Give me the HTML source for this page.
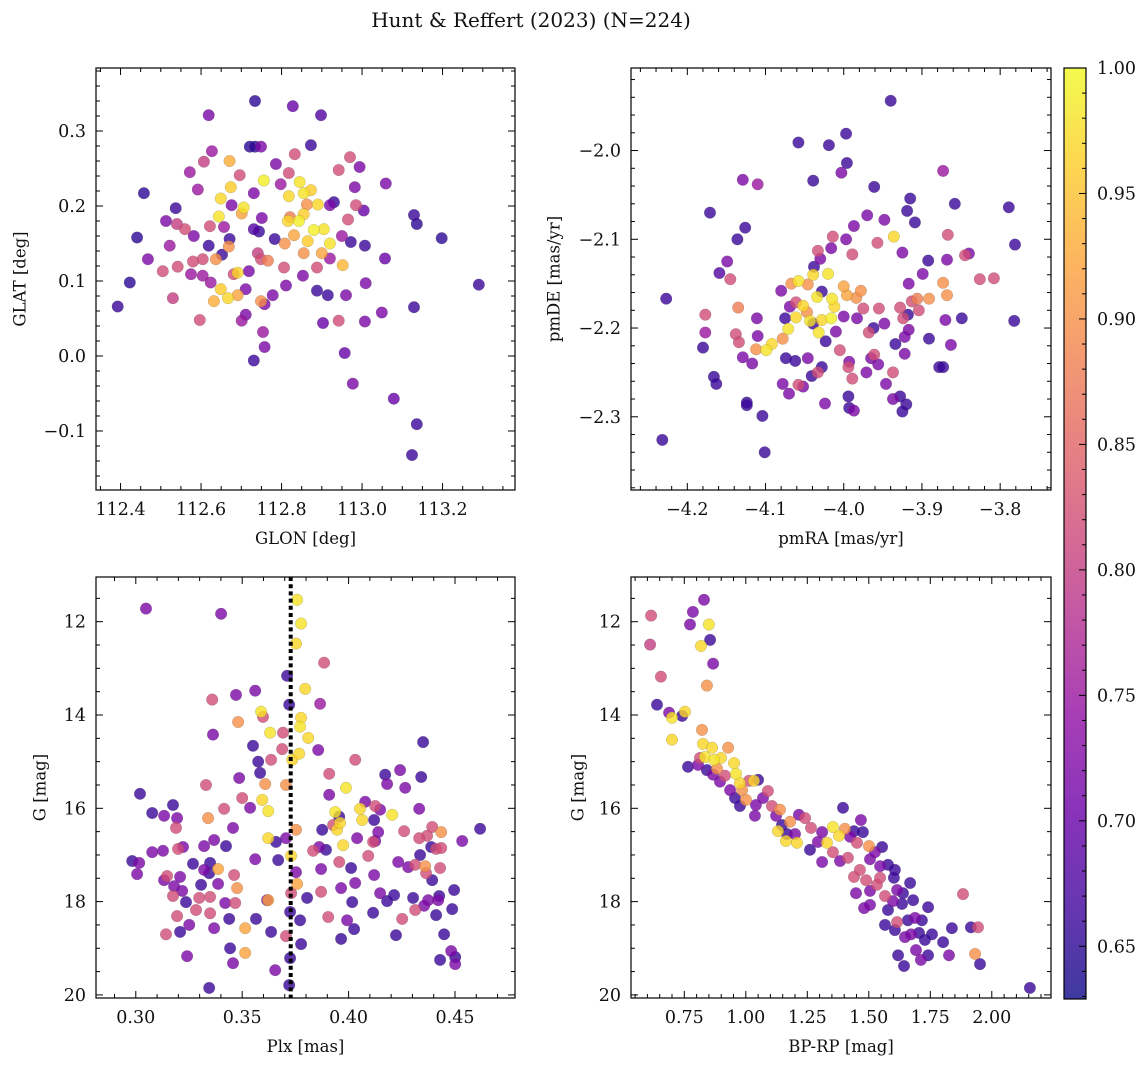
<!DOCTYPE html>
<html><head><meta charset="utf-8"><title>Hunt & Reffert (2023)</title>
<style>
html,body{margin:0;padding:0;background:#fff;}
svg{display:block;font-family:"DejaVu Serif","Liberation Serif",serif;}
</style></head>
<body>
<svg id="fig" width="1148" height="1067" viewBox="0 0 1148 1067" xmlns="http://www.w3.org/2000/svg">
<rect width="1148" height="1067" fill="#fff"/>
<text x="531" y="27" text-anchor="middle" font-size="20" fill="#111">Hunt &amp; Reffert (2023) (N=224)</text>
<g id="panels"></g>
</svg>
<script>
// ---------- Panel 1: GLON / GLAT ----------
const glon = [112.734,112.828,112.619,112.898,112.721,112.734,112.749,112.458,112.441,112.423,112.393,113.290,113.198,113.129,113.136,113.129,113.136,113.124,113.079,112.977,112.957,113.007,113.057,113.049,113.009,113.059,113.004,112.920,112.758,112.754,112.731,112.758,112.903,112.942,112.888,112.811,112.701,112.597,112.530,112.540,112.468,112.575,112.522,112.542,112.604,112.607,112.627,112.671,112.696,112.706,112.674,112.649,112.644,112.701,112.669,112.637,112.691,112.649,112.691,112.632,112.749,112.766,112.821,112.863,112.845,112.756,112.818,112.855,112.873,112.843,112.816,112.855,112.890,112.880,112.905,112.920,112.865,112.831,112.808,112.855,112.900,112.950,112.972,112.985,112.965,112.942,112.982,112.952,112.930,112.873,112.786,112.798,112.833,112.818,112.731,112.751,112.783,112.744,112.731,112.749,112.741,112.806,112.778,112.711,112.719,112.671,112.652,112.619,112.657,112.681,112.624,112.582,112.572,112.592,112.676,112.537,112.513,112.560,112.580,112.505,112.604,112.622,112.667,112.711,113.007,112.920,112.888,112.915,112.960,112.853,112.970,112.994];
const glat = [0.340,0.333,0.321,0.321,0.279,0.279,0.279,0.217,0.158,0.098,0.066,0.095,0.157,0.188,0.176,0.065,-0.091,-0.132,-0.057,-0.037,0.004,0.046,0.130,0.058,0.097,0.230,0.194,0.201,0.069,0.032,-0.006,0.012,0.044,0.047,0.087,0.094,0.047,0.048,0.077,0.176,0.129,0.109,0.147,0.119,0.129,0.259,0.273,0.260,0.241,0.198,0.225,0.210,0.186,0.190,0.146,0.129,0.111,0.089,0.081,0.073,0.073,0.127,0.185,0.202,0.232,0.234,0.213,0.217,0.221,0.180,0.180,0.189,0.202,0.168,0.169,0.150,0.153,0.161,0.150,0.137,0.137,0.160,0.152,0.201,0.182,0.248,0.225,0.121,0.205,0.281,0.256,0.229,0.269,0.244,0.217,0.184,0.156,0.166,0.169,0.129,0.137,0.118,0.081,0.089,0.113,0.156,0.135,0.147,0.172,0.109,0.098,0.160,0.245,0.222,0.201,0.197,0.180,0.169,0.126,0.113,0.107,0.173,0.077,0.055,0.147,0.130,0.118,0.081,0.081,0.107,0.265,0.252];
const prob1 = [.65,.70,.72,.68,.65,.65,.72,.65,.65,.65,.66,.66,.65,.66,.65,.66,.66,.66,.70,.72,.70,.72,.70,.72,.72,.72,.70,.72,.72,.75,.66,.72,.70,.82,.66,.72,.75,.82,.80,.80,.72,.75,.75,.82,.82,.80,.75,.93,.82,.98,.96,.97,.98,.92,.90,.90,.97,.96,.92,.93,.90,.88,.88,.90,.98,.99,.97,.98,.96,.99,.97,.96,.97,.99,.98,.98,.96,.92,.90,.90,.92,.75,.66,.82,.82,.82,.72,.94,.66,.66,.72,.75,.82,.82,.72,.72,.66,.66,.68,.82,.80,.82,.72,.72,.72,.66,.66,.66,.75,.82,.75,.72,.75,.75,.72,.66,.72,.82,.82,.82,.75,.82,.97,.72,.66,.75,.82,.66,.72,.72,.82,.72];
const p1XTicks = [112.4,112.6,112.8,113.0,113.2];
const p1XTickLabels = ["112.4","112.6","112.8","113.0","113.2"];
const p1YTicks = [-0.1,0.0,0.1,0.2,0.3];
const p1YTickLabels = ["\u22120.1","0.0","0.1","0.2","0.3"];

// ---------- Panel 2: pmRA / pmDE ----------
const pmra = [-3.940,-3.997,-4.058,-4.019,-3.996,-3.961,-4.129,-4.110,-4.039,-4.003,-3.873,-3.915,-3.919,-3.909,-3.858,-3.789,-3.781,-4.171,-4.126,-4.136,-4.159,-4.227,-4.177,-4.177,-4.180,-4.166,-4.163,-4.232,-4.124,-4.124,-4.104,-4.101,-4.149,-4.145,-4.135,-4.138,-4.134,-4.129,-4.117,-4.110,-4.112,-4.099,-4.092,-4.078,-4.071,-4.061,-4.061,-4.080,-4.058,-4.067,-4.046,-4.034,-4.052,-4.047,-4.043,-4.028,-4.032,-4.016,-4.015,-4.012,-3.996,-3.984,-3.978,-4.000,-4.020,-4.039,-4.038,-4.030,-4.033,-4.016,-4.014,-3.997,-3.989,-3.987,-3.970,-3.948,-3.957,-3.936,-3.925,-3.899,-3.917,-3.906,-3.913,-3.928,-3.924,-3.904,-3.891,-3.873,-3.845,-3.840,-3.868,-3.892,-3.868,-3.918,-3.917,-3.922,-3.891,-3.922,-3.961,-3.956,-3.937,-3.946,-3.937,-3.928,-3.920,-3.925,-3.878,-3.873,-3.863,-3.849,-3.782,-3.826,-3.808,-3.867,-3.870,-3.987,-3.971,-3.965,-3.993,-3.994,-3.993,-4.024,-4.052,-4.033,-4.028,-4.005,-3.994,-3.989,-4.010,-4.000,-3.983,-3.975,-3.955,-3.948,-3.962,-3.934,-4.070,-4.078,-4.058,-4.074,-4.062,-4.046,-4.041,-4.023,-3.968,-4.028,-4.039,-4.075,-4.069,-4.111];
const pmde = [-1.944,-1.981,-1.991,-1.994,-2.014,-2.041,-2.033,-2.038,-2.034,-2.025,-2.023,-2.054,-2.068,-2.081,-2.060,-2.064,-2.106,-2.070,-2.087,-2.100,-2.138,-2.167,-2.185,-2.205,-2.222,-2.255,-2.263,-2.326,-2.284,-2.287,-2.299,-2.340,-2.125,-2.145,-2.177,-2.207,-2.216,-2.233,-2.240,-2.209,-2.224,-2.225,-2.218,-2.212,-2.201,-2.188,-2.171,-2.158,-2.147,-2.150,-2.151,-2.165,-2.175,-2.182,-2.192,-2.191,-2.205,-2.189,-2.167,-2.176,-2.163,-2.166,-2.158,-2.153,-2.139,-2.140,-2.131,-2.122,-2.113,-2.110,-2.097,-2.100,-2.117,-2.085,-2.073,-2.078,-2.104,-2.097,-2.115,-2.139,-2.150,-2.167,-2.170,-2.177,-2.189,-2.180,-2.167,-2.149,-2.118,-2.116,-2.123,-2.124,-2.163,-2.185,-2.202,-2.210,-2.212,-2.229,-2.230,-2.241,-2.250,-2.263,-2.280,-2.277,-2.286,-2.294,-2.244,-2.244,-2.219,-2.189,-2.192,-2.145,-2.144,-2.095,-2.191,-2.293,-2.250,-2.234,-2.238,-2.277,-2.290,-2.285,-2.266,-2.250,-2.244,-2.225,-2.244,-2.257,-2.204,-2.187,-2.189,-2.178,-2.178,-2.195,-2.200,-2.218,-2.274,-2.263,-2.264,-2.234,-2.237,-2.234,-2.254,-2.215,-2.205,-2.159,-2.195,-2.189,-2.176,-2.189];
const prob2 = [.66,.66,.66,.66,.66,.66,.72,.75,.66,.72,.75,.66,.66,.66,.66,.66,.66,.66,.66,.66,.68,.66,.82,.75,.66,.66,.66,.66,.66,.66,.66,.66,.72,.82,.88,.82,.82,.72,.72,.72,.90,.98,.97,.90,.98,.97,.82,.72,.98,.90,.90,.98,.97,.90,.98,.97,.98,.99,.98,.97,.92,.90,.90,.92,.98,.97,.66,.72,.82,.72,.82,.72,.82,.72,.72,.72,.82,.97,.72,.72,.72,.88,.82,.82,.82,.82,.90,.90,.82,.72,.72,.66,.90,.66,.72,.72,.66,.72,.82,.72,.82,.72,.72,.66,.66,.66,.66,.66,.72,.66,.66,.82,.82,.82,.72,.72,.72,.72,.72,.66,.66,.72,.72,.82,.66,.82,.82,.82,.72,.72,.72,.82,.82,.72,.66,.66,.72,.72,.82,.66,.66,.72,.66,.66,.82,.66,.66,.66,.72,.72];
const p2XTicks = [-4.2,-4.1,-4.0,-3.9,-3.8];
const p2XTickLabels = ["\u22124.2","\u22124.1","\u22124.0","\u22123.9","\u22123.8"];
const p2YTicks = [-2.3,-2.2,-2.1,-2.0];
const p2YTickLabels = ["\u22122.3","\u22122.2","\u22122.1","\u22122.0"];

// ---------- Panel 3: Plx / G ----------
const plx = [.3048,.3401,.3561,.3575,.3758,.3777,.3753,.3711,.3796,.3721,.3866,.3885,.3810,.3772,.3777,.3735,.3909,.3988,.4031,.3589,.3598,.3471,.3359,.3481,.3363,.3631,.3692,.3688,.3768,.3551,.3584,.3636,.3608,.3706,.3594,.3537,.3622,.3622,.3659,.3561,.3669,.3706,.3753,.3730,.3753,.3758,.3730,.3725,.3617,.3565,.3706,.3805,.3772,.3777,.3725,.3655,.3721,.3636,.3514,.3514,.3443,.3345,.3622,.3349,.3368,.3298,.3349,.3420,.3439,.3476,.3349,.3368,.3424,.3340,.3330,.3415,.3486,.3500,.3457,.3462,.3387,.3387,.3345,.3208,.3269,.3128,.3077,.3016,.2983,.3006,.3133,.3194,.3142,.3147,.3222,.3199,.3189,.3194,.3175,.3133,.3077,.3020,.3321,.3321,.3307,.3236,.3251,.3208,.3175,.3283,.3218,.3180,.3241,.3457,.3467,.3909,.3937,.3946,.3974,.3894,.3956,.3871,.3871,.3904,.3965,.4031,.4017,.3993,.3862,.3876,.3927,.3833,.3960,.4040,.4120,.4125,.4092,.4120,.4148,.4214,.4223,.4115,.4026,.3965,.4181,.4115,.4125,.4139,.4205,.4181,.4242,.4266,.4341,.4332,.4261,.4233,.4280,.4313,.4303,.4252,.4313,.4374,.4421,.4364,.4369,.4393,.4435,.4332,.4388,.4411,.4430,.4435,.4360,.4496,.4393,.4426,.4355,.4449,.4501,.4534,.4430,.4482,.4487,.4618,.4501,.4411,.4336,.4350,.4172,.4148,.3956,.4078,.4064,.3857,.4012,.4054];
const gmag3 = [11.72,11.83,13.48,15.00,11.53,12.04,12.47,13.16,13.44,13.78,13.76,12.88,14.49,14.25,14.06,14.96,15.26,15.56,14.96,13.93,14.04,13.57,13.67,14.15,14.42,14.38,14.38,14.73,14.83,14.66,15.24,14.96,15.48,15.50,15.82,15.99,16.06,16.64,16.72,17.09,17.11,16.64,16.46,17.02,17.37,17.62,17.82,18.22,17.97,18.37,18.74,17.92,18.40,18.91,19.21,19.47,19.79,18.65,18.57,19.10,19.00,19.85,17.97,18.25,18.57,17.92,17.90,18.03,18.37,17.71,17.17,16.68,16.81,16.21,15.50,16.01,15.35,15.78,16.42,17.43,17.62,17.30,17.39,17.47,17.19,16.91,16.94,17.17,17.13,17.41,17.54,18.31,18.70,17.45,16.83,16.87,16.42,16.21,15.93,16.16,16.10,15.69,16.81,17.32,17.64,18.01,18.50,18.65,17.88,18.18,17.77,17.67,19.17,19.32,18.03,15.71,16.08,16.46,16.79,16.89,17.15,17.30,17.79,18.33,17.71,17.60,18.01,18.40,16.83,16.46,16.36,16.91,16.31,16.64,16.25,16.70,17.02,17.43,17.82,17.86,18.72,18.24,18.59,18.80,17.99,16.72,15.95,16.51,16.14,15.48,15.18,15.56,15.33,16.01,16.49,17.15,17.26,17.21,17.92,18.37,18.18,17.97,17.97,17.39,16.59,16.40,16.51,16.64,16.83,16.87,17.28,16.85,17.24,17.75,17.54,17.88,18.09,18.70,19.19,16.70,19.25,19.06,18.16,16.44,19.34,18.29,17.00,14.58,15.28,16.03,16.18,15.86,16.25,14.75,17.28,16.01];
const prob3 = [.72,.72,.72,.66,.98,.98,.97,.66,.97,.66,.75,.82,.97,.98,.97,.97,.82,.98,.82,.98,.82,.72,.82,.90,.72,.98,.82,.82,.97,.66,.66,.82,.90,.90,.97,.72,.98,.97,.66,.72,.66,.72,.90,.97,.72,.92,.82,.66,.72,.66,.82,.66,.66,.66,.66,.72,.66,.66,.92,.92,.66,.66,.92,.82,.72,.82,.82,.72,.66,.90,.66,.72,.66,.90,.82,.82,.72,.82,.72,.82,.72,.92,.66,.72,.66,.72,.72,.72,.66,.72,.72,.82,.82,.82,.72,.82,.82,.72,.66,.72,.66,.66,.72,.72,.66,.66,.72,.66,.82,.82,.72,.72,.72,.72,.82,.72,.98,.97,.97,.66,.82,.72,.82,.82,.72,.72,.66,.72,.72,.66,.82,.82,.97,.72,.66,.72,.82,.72,.72,.66,.66,.66,.66,.66,.66,.82,.82,.72,.98,.72,.72,.72,.66,.72,.82,.72,.72,.82,.66,.82,.82,.72,.72,.82,.82,.82,.90,.82,.66,.82,.82,.82,.90,.66,.66,.66,.72,.66,.66,.72,.66,.72,.66,.66,.72,.66,.66,.66,.66,.72,.66,.72,.97,.72,.66,.97];
const plxRef = [0.3728];
const p3XTicks = [0.30,0.35,0.40,0.45];
const p3XTickLabels = ["0.30","0.35","0.40","0.45"];
const gTicks = [12,14,16,18,20];
const gTickLabels = ["12","14","16","18","20"];

// ---------- Panel 4: BP-RP / G ----------
const bprp = [.615,.611,.655,.639,.688,.700,.700,.741,.753,.773,.785,.830,.855,.867,.850,.818,.842,.765,.814,.822,.826,.834,.863,.871,.883,.899,.806,.842,.867,.895,.915,.928,.952,.960,.976,.985,1.001,.936,.956,.976,1.013,1.033,1.041,1.037,1.070,1.090,1.050,1.106,1.123,1.139,1.180,1.147,1.167,1.200,1.216,1.241,1.265,1.293,1.261,1.310,1.330,1.354,1.379,1.403,1.424,1.452,1.476,1.501,1.505,1.525,1.554,1.546,1.578,1.606,1.602,1.395,1.440,1.468,1.383,1.415,1.440,1.464,1.489,1.505,1.533,1.566,1.615,1.639,1.635,1.659,1.615,1.578,1.598,1.566,1.505,1.481,1.546,1.668,1.680,1.688,1.716,1.741,1.647,1.672,1.692,1.704,1.728,1.741,1.712,1.757,1.802,1.838,1.915,1.826,1.883,1.944,1.932,1.952,2.155,1.619,1.643,1.606,1.448,1.310,1.354,1.208,1.163,1.131];
const gmag4 = [11.87,12.49,13.18,13.78,13.95,14.53,14.06,14.02,13.93,12.06,11.79,11.53,12.39,12.90,12.06,12.52,13.37,15.11,14.92,14.32,14.62,14.90,14.70,14.96,15.15,14.92,15.07,15.18,15.28,15.43,15.30,14.70,15.03,15.26,15.46,15.61,15.82,15.61,15.78,15.95,15.41,15.41,15.93,16.16,15.78,15.63,15.39,15.95,16.16,16.03,16.29,16.36,16.55,16.55,16.14,16.21,16.42,16.72,16.89,16.51,16.74,16.40,16.59,16.44,16.61,16.74,16.51,16.81,17.09,16.94,16.83,17.24,17.21,17.32,17.49,15.99,16.49,16.25,17.13,17.06,17.47,17.32,17.54,17.77,17.64,17.88,17.75,17.82,18.05,18.40,18.44,18.18,17.99,18.50,18.07,18.14,17.49,17.60,17.97,18.35,18.40,18.12,18.76,18.70,19.04,18.67,18.82,19.15,19.25,18.70,18.87,18.57,18.55,19.15,17.84,18.55,19.12,19.34,19.85,19.15,19.38,18.61,17.82,17.15,16.94,16.74,16.70,16.49];
const prob4 = [.82,.80,.82,.66,.72,.97,.98,.66,.97,.72,.72,.72,.66,.72,.98,.97,.90,.66,.82,.90,.97,.98,.97,.98,.90,.97,.72,.66,.72,.72,.82,.90,.97,.98,.97,.90,.90,.72,.66,.66,.82,.97,.72,.72,.72,.82,.66,.82,.72,.90,.90,.66,.66,.72,.72,.82,.82,.72,.66,.72,.97,.98,.97,.90,.72,.82,.66,.90,.72,.72,.66,.72,.66,.66,.66,.66,.66,.72,.72,.82,.82,.82,.82,.72,.82,.82,.72,.66,.66,.66,.82,.66,.72,.66,.72,.72,.82,.66,.66,.72,.66,.66,.72,.72,.72,.66,.66,.66,.72,.66,.66,.66,.66,.72,.82,.82,.90,.66,.66,.66,.66,.66,.72,.72,.82,.97,.97,.97];
const p4XTicks = [0.75,1.00,1.25,1.50,1.75,2.00];
const p4XTickLabels = ["0.75","1.00","1.25","1.50","1.75","2.00"];

// ---------- Colorbar ----------
const cbarRange = [0.629, 1.0];
const cbarTicks = [0.65,0.70,0.75,0.80,0.85,0.90,0.95,1.00];
const cbarTickLabels = ["0.65","0.70","0.75","0.80","0.85","0.90","0.95","1.00"];

const NS = "http://www.w3.org/2000/svg";
const root = document.getElementById("panels");
function mk(tag, attrs, parent) {
  const e = document.createElementNS(NS, tag);
  for (const k in attrs) e.setAttribute(k, attrs[k]);
  (parent || root).appendChild(e);
  return e;
}
const plasma = [[13,8,135],[65,4,157],[106,0,168],[143,13,164],[177,42,144],[204,71,120],[225,100,98],[242,132,75],[252,166,54],[252,206,37],[240,249,33]];
function cmap(t) {
  t = Math.max(0, Math.min(1, t));
  const f = t * (plasma.length - 1);
  const i = Math.min(Math.floor(f), plasma.length - 2);
  const r = f - i, a = plasma[i], b = plasma[i + 1];
  return "rgb(" + [0,1,2].map(k => Math.round(a[k] + (b[k] - a[k]) * r)).join(",") + ")";
}
function norm(p) { return (p - cbarRange[0]) / (cbarRange[1] - cbarRange[0]); }

function panel(o) {
  const g = mk("g", {});
  
  
  const W = o.x1 - o.x0, H = o.y1 - o.y0;
  const sx = v => o.x0 + (v - o.xmin) / (o.xmax - o.xmin) * W;
  const sy = v => o.invert ? o.y0 + (v - o.ymin) / (o.ymax - o.ymin) * H
                           : o.y1 - (v - o.ymin) / (o.ymax - o.ymin) * H;
  const clipId = "clip-" + o.name;
  const cp = mk("clipPath", {id: clipId}, g);
  mk("rect", {x: o.x0, y: o.y0, width: W, height: H}, cp);
  const pts = mk("g", {"clip-path": "url(#" + clipId + ")"}, g);
  
  
  const n = Math.min(o.xs.length, o.ys.length, o.ps.length);
  const idx = [];
  for (let i = 0; i < n; i++) idx.push(i);
  idx.sort((a, b) => o.ps[a] - o.ps[b]);
  idx.forEach(i => {
    const c = mk("circle", {cx: sx(o.xs[i]).toFixed(1), cy: sy(o.ys[i]).toFixed(1), r: 5.8,
      fill: cmap(norm(o.ps[i])), "fill-opacity": 0.8, stroke: "#555", "stroke-opacity": 0.35, "stroke-width": 0.5}, pts);
    
    
  });
  if (o.vline) {
    o.vline.forEach(v => {
      const l = mk("line", {x1: sx(v), x2: sx(v), y1: o.y0, y2: o.y1, stroke: "#000", "stroke-width": 4, "stroke-dasharray": "4 3.2"}, g);
      
      
    });
  }
  const frame = mk("rect", {x: o.x0, y: o.y0, width: W, height: H, fill: "none", stroke: "#000", "stroke-width": 1.2}, g);
  
  
  const tk = mk("g", {stroke: "#000", "stroke-width": 1}, g);
  
  
  const near = (a, b) => Math.abs(a - b) < 1e-6;
  // x ticks
  const xStart = Math.ceil(o.xmin / o.xMinor - 1e-9) * o.xMinor;
  for (let v = xStart; v <= o.xmax + 1e-9; v += o.xMinor) {
    const major = o.xTicks.some(m => near(m, v));
    const L = major ? 7 : 4, X = sx(v);
    mk("line", {x1: X, x2: X, y1: o.y1, y2: o.y1 - L}, tk);
    mk("line", {x1: X, x2: X, y1: o.y0, y2: o.y0 + L}, tk);
  }
  const yStart = Math.ceil(o.ymin / o.yMinor - 1e-9) * o.yMinor;
  for (let v = yStart; v <= o.ymax + 1e-9; v += o.yMinor) {
    const major = o.yTicks.some(m => near(m, v));
    const L = major ? 7 : 4, Y = sy(v);
    mk("line", {x1: o.x0, x2: o.x0 + L, y1: Y, y2: Y}, tk);
    mk("line", {x1: o.x1, x2: o.x1 - L, y1: Y, y2: Y}, tk);
  }
  o.xTicks.forEach((v, i) => {
    const t = mk("text", {x: sx(v), y: o.y1 + 25, "text-anchor": "middle", "font-size": 17.5, fill: "#111"}, g);
    t.textContent = o.xLabels[i];
    
    
  });
  o.yTicks.forEach((v, i) => {
    const t = mk("text", {x: o.x0 - 10, y: sy(v) + 6, "text-anchor": "end", "font-size": 17.5, fill: "#111"}, g);
    t.textContent = o.yLabels[i];
    
    
  });
  const xt = mk("text", {x: (o.x0 + o.x1) / 2, y: o.y1 + 54, "text-anchor": "middle", "font-size": 16.5, fill: "#111"}, g);
  xt.textContent = o.xTitle;
  
  
  const yc = (o.y0 + o.y1) / 2;
  const yt = mk("text", {x: o.yTitleX, y: yc, "text-anchor": "middle", "font-size": 16.5, fill: "#111",
    transform: "rotate(-90 " + o.yTitleX + " " + yc + ")", "dominant-baseline": "central"}, g);
  yt.textContent = o.yTitle;
  
  
}

panel({name: "glon-glat-panel", x0: 96, x1: 515, y0: 68, y1: 490,
  xmin: 112.339, xmax: 113.380, ymin: -0.1787, ymax: 0.384, invert: false,
  xs: glon, ys: glat, ps: prob1, xTicks: p1XTicks, xLabels: p1XTickLabels, xMinor: 0.05,
  yTicks: p1YTicks, yLabels: p1YTickLabels, yMinor: 0.02,
  xTitle: "GLON [deg]", yTitle: "GLAT [deg]", yTitleX: 20});
panel({name: "proper-motion-panel", x0: 631, x1: 1051, y0: 68, y1: 490,
  xmin: -4.272, xmax: -3.735, ymin: -2.3825, ymax: -1.907, invert: false,
  xs: pmra, ys: pmde, ps: prob2, xTicks: p2XTicks, xLabels: p2XTickLabels, xMinor: 0.02,
  yTicks: p2YTicks, yLabels: p2YTickLabels, yMinor: 0.02,
  xTitle: "pmRA [mas/yr]", yTitle: "pmDE [mas/yr]", yTitleX: 554});
panel({name: "parallax-magnitude-panel", x0: 96, x1: 515, y0: 577, y1: 998,
  xmin: 0.2813, xmax: 0.4782, ymin: 11.042, ymax: 20.066, invert: true,
  xs: plx, ys: gmag3, ps: prob3, xTicks: p3XTicks, xLabels: p3XTickLabels, xMinor: 0.01,
  yTicks: gTicks, yLabels: gTickLabels, yMinor: 0.5, vline: plxRef,
  xTitle: "Plx [mas]", yTitle: "G [mag]", yTitleX: 40});
panel({name: "color-magnitude-panel", x0: 631, x1: 1051, y0: 577, y1: 998,
  xmin: 0.5333, xmax: 2.2407, ymin: 11.042, ymax: 20.066, invert: true,
  xs: bprp, ys: gmag4, ps: prob4, xTicks: p4XTicks, xLabels: p4XTickLabels, xMinor: 0.05,
  yTicks: gTicks, yLabels: gTickLabels, yMinor: 0.5,
  xTitle: "BP-RP [mag]", yTitle: "G [mag]", yTitleX: 578});

// colorbar
(function () {
  const x0 = 1064, x1 = 1086, y0 = 68, y1 = 999;
  const g = mk("g", {});
  
  
  const defs = mk("defs", {}, g);
  const lg = mk("linearGradient", {id: "cbgrad", x1: 0, y1: 1, x2: 0, y2: 0}, defs);
  for (let i = 0; i <= 20; i++) mk("stop", {offset: i / 20, "stop-color": cmap(i / 20)}, lg);
  const bar = mk("rect", {x: x0, y: y0, width: x1 - x0, height: y1 - y0, fill: "url(#cbgrad)", "fill-opacity": 0.8}, g);
  
  
  mk("rect", {x: x0, y: y0, width: x1 - x0, height: y1 - y0, fill: "none", stroke: "#000", "stroke-width": 1.2}, g);
  const sy = v => y1 - (v - cbarRange[0]) / (cbarRange[1] - cbarRange[0]) * (y1 - y0);
  for (let k = 63; k <= 100; k++) {
    const v = k / 100;
    const major = cbarTicks.some(m => Math.abs(m - v) < 1e-6);
    const Y = sy(v);
    mk("line", {x1: x1, x2: x1 - (major ? 7 : 4), y1: Y, y2: Y, stroke: "#000", "stroke-width": 1}, g);
  }
  cbarTicks.forEach((v, i) => {
    const t = mk("text", {x: x1 + 11, y: sy(v) + 6, "font-size": 17.5, fill: "#111"}, g);
    t.textContent = cbarTickLabels[i];
    
    
  });
})();
</script>
</body></html>
